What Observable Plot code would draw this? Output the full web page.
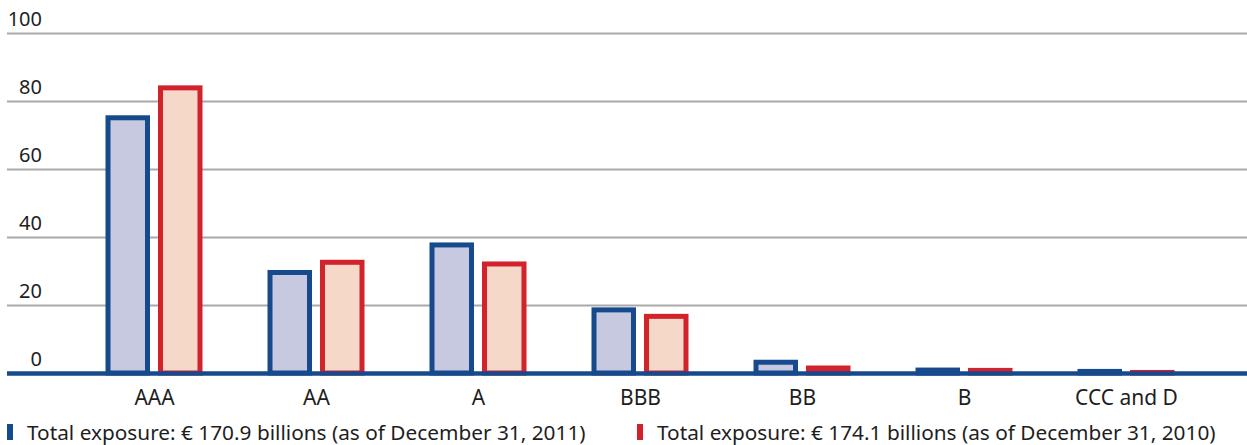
<!DOCTYPE html>
<html>
<head>
<meta charset="utf-8">
<script src="https://cdn.jsdelivr.net/npm/d3@7"></script>
<script src="https://cdn.jsdelivr.net/npm/@observablehq/plot@0.6"></script>
<style>
  html, body { margin: 0; padding: 0; background: #fff; }
  #wrap { position: relative; width: 1247px; height: 445px; font-family: "Noto Sans", sans-serif; color: #1e1e1e; }
  #chart svg { display: block; }
  .legend-item { position: absolute; top: 420px; font-size: 20.8px; line-height: 24px; white-space: nowrap; }
  .legend-item .swatch { position: absolute; top: 4px; width: 6px; height: 16px; }
</style>
</head>
<body>
<div id="wrap">
  <div id="chart"></div>
  <div class="legend-item" id="leg2011" style="left:27px"><span class="swatch" style="left:-20px;background:#17498d"></span>Total exposure: € 170.9 billions (as of December 31, 2011)</div>
  <div class="legend-item" id="leg2010" style="left:657px"><span class="swatch" style="left:-20px;background:#d2222b"></span>Total exposure: € 174.1 billions (as of December 31, 2010)</div>
</div>
<script>
// Credit exposure by rating class, € billions
const ratings = ["AAA", "AA", "A", "BBB", "BB", "B", "CCC and D"];
const exposure2011 = [75.8, 30.3, 38.4, 19.3, 3.9, 1.6, 1.2];
const exposure2010 = [84.6, 33.3, 32.8, 17.4, 2.2, 1.5, 0.9];
const yTicks = [0, 20, 40, 60, 80, 100];

const blue = "#17498d", blueFill = "#c6c9df";
const red = "#d2222b", redFill = "#f5d8c8";

const rows2011 = ratings.map((r, i) => ({rating: r, value: exposure2011[i]}));
const rows2010 = ratings.map((r, i) => ({rating: r, value: exposure2010[i]}));

// bar geometry inside each rating band (band step ≈ 163px)
const barCommon = {x: "rating", y: "value", strokeWidth: 5, insetTop: 2.5};

const chart = Plot.plot({
  width: 1247,
  height: 415,
  marginLeft: 7,
  marginRight: 0,
  marginTop: 33,
  marginBottom: 42,
  style: {fontFamily: "Noto Sans, sans-serif", fontSize: "20px", color: "#1e1e1e", background: "#fff"},
  x: {type: "band", domain: ratings, range: [69.6, 1209.4], padding: 0},
  y: {domain: [0, 100]},
  marks: [
    Plot.ruleY(yTicks.filter(d => d > 0), {stroke: "#a9a9a9", strokeWidth: 2}),
    Plot.barY(rows2011, {...barCommon, fill: blueFill, stroke: blue, insetLeft: 35, insetRight: 87.5}),
    Plot.barY(rows2010, {...barCommon, fill: redFill, stroke: red, insetLeft: 87.5, insetRight: 35}),
    Plot.ruleY([0], {stroke: blue, strokeWidth: 4.5}),
    Plot.axisY(yTicks, {anchor: "left", tickSize: 0, tickPadding: 0, dx: 34.5, dy: -14, textAnchor: "end", label: null, fill: "#1e1e1e", fontSize: 20}),
    Plot.axisX({anchor: "bottom", tickSize: 0, tickPadding: 17, label: null, fill: "#1e1e1e", fontSize: 21})
  ]
});
document.getElementById("chart").appendChild(chart);
</script>
</body>
</html>
